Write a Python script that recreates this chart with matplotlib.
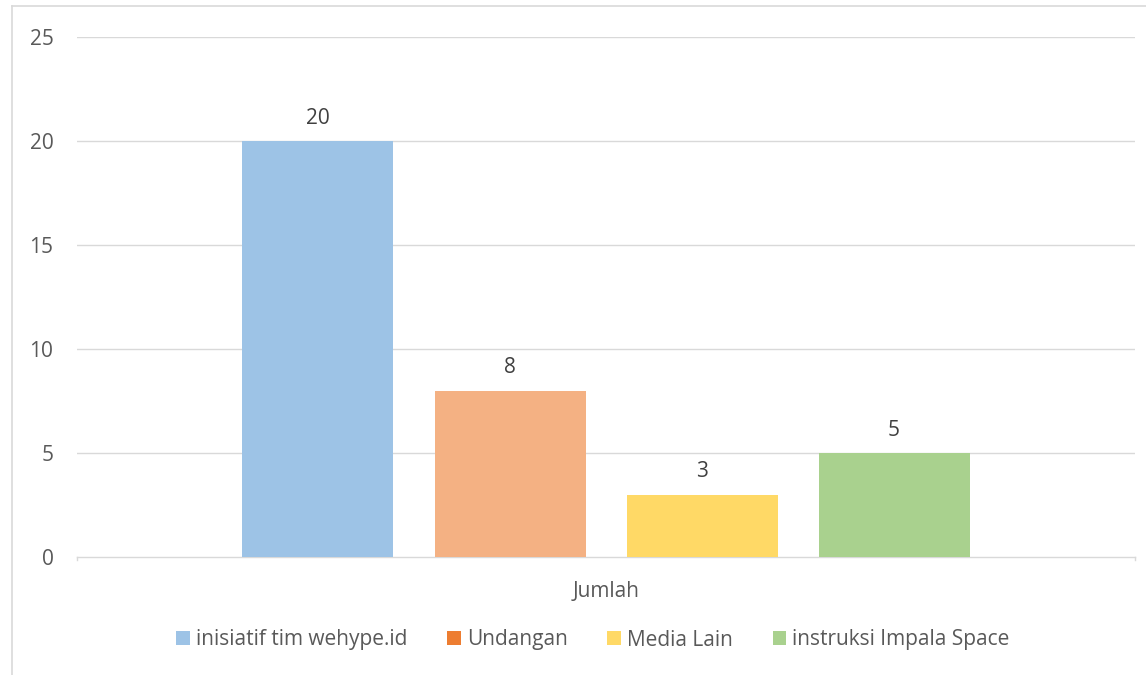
import matplotlib
matplotlib.use("Agg")
import matplotlib.pyplot as plt
from matplotlib.patches import Patch
from matplotlib.lines import Line2D

categories = ["Jumlah"]
series_names = ["inisiatif tim wehype.id", "Undangan", "Media Lain", "instruksi Impala Space"]
values = [20, 8, 3, 5]
bar_colors = ["#9DC3E6", "#F4B183", "#FFD966", "#A9D18E"]
legend_colors = ["#9DC3E6", "#ED7D31", "#FFD966", "#A9D18E"]
yticks = [0, 5, 10, 15, 20, 25]

plt.rcParams['font.family'] = ['Open Sans', 'DejaVu Sans']
txt = "#595959"
grid = "#D9D9D9"
FS = 15

W, H = 1146, 675
fig = plt.figure(figsize=(W/100, H/100), dpi=100)
ax = fig.add_axes([77/W, 1-557/H, (1135-77)/W, (557-37)/H])

step = 192/1058
width = 151/1058
n = len(values)
for i, (v, c) in enumerate(zip(values, bar_colors)):
    x = (i - (n-1)/2) * step
    ax.bar(x, v, width=width, color=c, zorder=3)
    ax.text(x, v + 0.6, str(v), ha='center', va='bottom', fontsize=FS, color="#404040")

ax.set_xlim(-0.5, 0.5)
ax.set_ylim(0, 25)
ax.set_yticks(yticks)
ax.set_yticklabels([str(t) for t in yticks], fontsize=FS, color=txt)
ax.tick_params(axis='y', length=0, pad=17)
ax.set_xticks([0])
ax.set_xticklabels(categories, fontsize=FS, color=txt)
ax.tick_params(axis='x', length=0, pad=17)
for t in yticks[1:]:
    ax.axhline(t, color=grid, lw=1, zorder=1)
for s in ['top', 'right', 'left']:
    ax.spines[s].set_visible(False)
ax.spines['bottom'].set_color(grid)
ax.spines['bottom'].set_linewidth(1)
# small end ticks on category axis
for xe in (-0.5, 0.5):
    ax.plot([xe, xe], [0, -0.15], color=grid, lw=1, clip_on=False)

handles = [Patch(facecolor=c, edgecolor='none') for c in legend_colors]
fig.legend(handles, series_names, loc='center', bbox_to_anchor=(593/W, 1-640/H),
           ncol=4, frameon=False, fontsize=FS, labelcolor=txt,
           handlelength=0.65, handleheight=0.65, handletextpad=0.3, columnspacing=1.9)

# outer chart frame
fig.add_artist(Line2D([12/W, 12/W], [0, 1-6/H], color=grid, lw=1.2, transform=fig.transFigure))
fig.add_artist(Line2D([12/W, 1], [1-6/H, 1-6/H], color=grid, lw=1.2, transform=fig.transFigure))

fig.savefig("out.png", dpi=100)
